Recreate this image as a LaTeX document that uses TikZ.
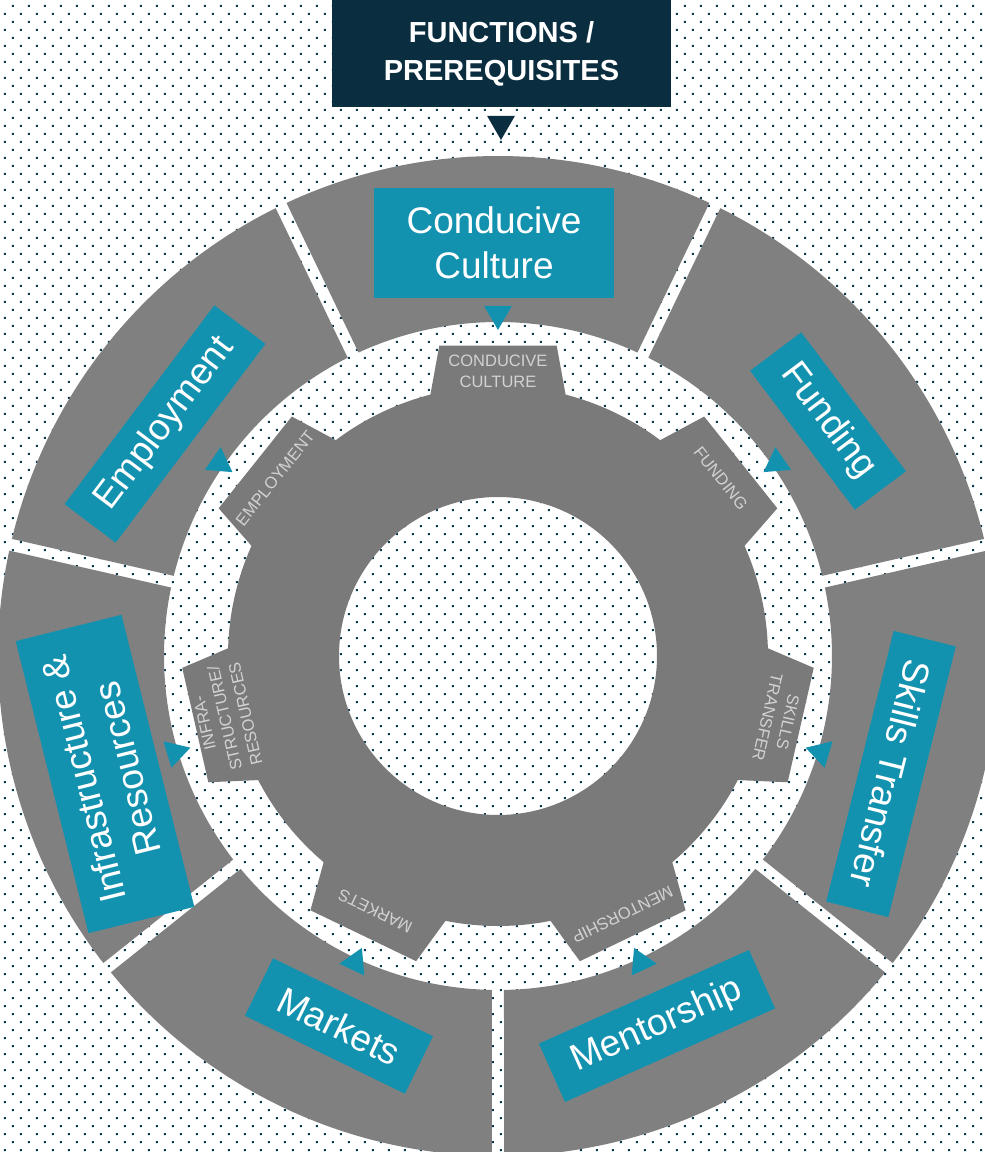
\documentclass[tikz,border=0pt]{standalone}
\usepackage{fontspec}
\setmainfont{Liberation Sans}
\usetikzlibrary{shapes.geometric}

\definecolor{navy}{HTML}{0A2E40}
\definecolor{boxteal}{HTML}{1392B0}
\definecolor{ringgray}{HTML}{808080}
\definecolor{geargray}{HTML}{7A7A7A}
\definecolor{dotc}{HTML}{0B3A50}
\definecolor{lblgray}{HTML}{D2D2D2}

\begin{document}
\begin{tikzpicture}[x=1pt,y=1pt,
      ringseg/.style={fill=ringgray},
      gear/.style={fill=geargray},
      box/.style={fill=boxteal,text=white,inner sep=0pt,align=center,
        font=\fontsize{37}{45}\selectfont},
      tri/.style={regular polygon,regular polygon sides=3,fill=boxteal,
        inner sep=0pt,minimum size=32},
      lbl/.style={text=lblgray,align=center,inner sep=0pt,
        font=\fontsize{16.5}{21}\selectfont}]
      \useasboundingbox (-498,-496) rectangle (487,656);
      \fill[white] (-498,-496) rectangle (487,656);

      % dotted background
      \foreach \r in {0,...,143}{
        \pgfmathsetmacro\off{5+8*(1-mod(\r,2))}
        \fill[dotc] \foreach \c in {0,...,61}{
          ({\off+16*\c-499},{649-8*\r}) rectangle ++(2,2) };
      }

      % outer ring
      \foreach \t in {0,...,6}{
        \pgfmathsetmacro\a{90-\t*360/7+360/14}
        \pgfmathsetmacro\b{90-\t*360/7-360/14}
        \fill[ringseg] ({\b+0.69}:500)
          arc[start angle={\b+0.69}, end angle={\a-0.69}, radius=500]
          -- ({\a-1.03}:334)
          arc[start angle={\a-1.03}, end angle={\b+1.03}, radius=334]
          -- cycle;
      }

      % gear
      \fill[gear,even odd rule] (104.5:270)
        \foreach \k in {0,...,6}{
          -- ({90-\k*360/7+14.5}:270) -- ({90-\k*360/7+10.7}:316)
          -- ({90-\k*360/7-10.7}:316) -- ({90-\k*360/7-14.5}:270)
          arc[start angle={90-\k*360/7-14.5}, end angle={90-(\k+1)*360/7+14.5}, radius=270]
        } -- cycle
        (0,0) circle[radius=159];

      \node[lbl] (gcc) at (90:285) {CONDUCIVE\\CULTURE};
      \node[lbl, rotate=-51.43] (gfund) at (38.57:285) {FUNDING};
      \node[lbl, rotate=-102.86] (gskill) at (-12.86:287) {SKILLS\\TRANSFER};
      \node[lbl, rotate=-154.29] (gment) at (-64.29:287) {MENTORSHIP};
      \node[lbl, rotate=154.29] (gmark) at (-115.71:283) {MARKETS};
      \node[lbl, rotate=102.86] (ginfra) at (-167.14:280) {INFRA-\\STRUCTURE/\\RESOURCES};
      \node[lbl, rotate=51.43] (gemp) at (141.43:285) {EMPLOYMENT};

      % header
      \node[fill=navy, text=white, inner sep=0pt, align=center,
        minimum width=339, minimum height=107,
        font=\bfseries\fontsize{29}{38}\selectfont] (head) at (3.5,602.5)
        {FUNCTIONS /\\PREREQUISITES};
      \node[tri, fill=navy, rotate=180] (headtip) at (3,532) {};

      % functions
      \node[box, minimum width=240, minimum height=110] (cc) at (-4,413) {Conducive\\Culture};
      \node[box, minimum width=174, minimum height=64, rotate=-53] (fund) at (330,235) {Funding};
      \node[box, minimum width=279, minimum height=64, rotate=-104] (skill) at (393,-118) {Skills Transfer};
      \node[box, minimum width=230, minimum height=64, rotate=24] (ment) at (159,-370) {Mentorship};
      \node[box, minimum width=178, minimum height=64, rotate=-26] (mark) at (-159,-370) {Markets};
      \node[box, minimum width=301, minimum height=109, rotate=104] (infra) at (-393,-118) {Infrastructure \&\\Resources};
      \node[box, minimum width=249, minimum height=64, rotate=53] (emp) at (-333,232) {Employment};

      \node[tri, rotate=180] (cctip) at (90:342) {};
      \node[tri, rotate=124.7] (fundtip) at (34.7:339) {};
      \node[tri, rotate=73.4] (skilltip) at (-16.6:337) {};
      \node[tri, rotate=25] (menttip) at (-65:338) {};
      \node[tri, rotate=-25] (marktip) at (-115:338) {};
      \node[tri, rotate=-73.4] (infratip) at (-163.4:337) {};
      \node[tri, rotate=235.3] (emptip) at (145.3:339) {};
\end{tikzpicture}
\end{document}
